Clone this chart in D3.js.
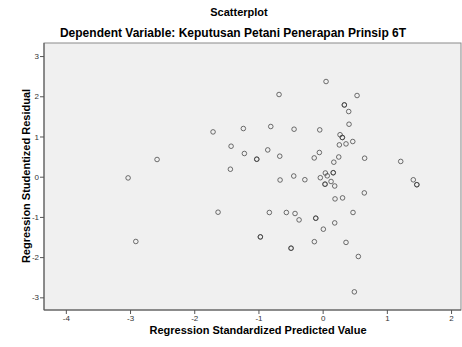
<!DOCTYPE html>
<html lang="en">
	<head>
		<meta charset="utf-8">
		<title>Scatterplot</title>
		<script src="https://d3js.org/d3.v7.min.js"></script>
		<style type="text/css">
			body {
				margin: 0;
				background: #fff;
			}
			text {
				font-family: Arial, "Liberation Sans", sans-serif;
			}
			.tick text {
				font-size: 8px;
				fill: #333;
			}
			.tick line {
				stroke: #555;
			}
			.domain {
				display: none;
			}
		</style>
	</head>
	<body>
		<script type="text/javascript">

			//Width and height
			var w = 462;
			var h = 347;

			//Standardized predicted value (x) and studentized residual (y), one entry per case
			var predicted = [-1.707, -1.235, -1.426, -1.219, -1.026, -1.026, -2.579, -1.437, -3.030,
				0.053, -0.679, 0.536, 0.338, 0.338, 0.406, -0.808, -0.445, -0.045, 0.411, 0.271,
				0.307, 0.307, 0.260, 0.364, 0.469, -0.855, -0.668, -0.051, -0.131, 0.251, 0.174,
				0.654, 1.216, -0.663, -0.450, -0.277, -0.036, 0.042, 0.072, 0.165, 0.165, 1.412,
				0.131, 0.037, 0.037, 0.188, 1.467, 1.467, 0.649, 0.193, 0.310, -0.830, -0.565,
				-0.430, -0.367, -0.107, -0.107, 0.473, 0.188, 0.011, -0.970, -0.970, -0.492, -0.492,
				-0.129, 0.364, 0.556, 0.494, -1.629, -2.910];
			var residual = [1.114, 1.198, 0.758, 0.577, 0.435, 0.435, 0.428, 0.186, -0.030,
				2.367, 2.044, 2.019, 1.785, 1.785, 1.621, 1.248, 1.181, 1.164, 1.305, 1.044,
				0.975, 0.975, 0.791, 0.816, 0.875, 0.666, 0.510, 0.602, 0.467, 0.490, 0.361,
				0.460, 0.380, -0.082, 0.017, -0.075, -0.025, 0.092, 0.022, 0.099, 0.099, -0.077,
				-0.119, -0.186, -0.186, -0.231, -0.199, -0.199, -0.403, -0.552, -0.527, -0.890, -0.890,
				-0.915, -1.074, -1.032, -1.032, -0.890, -1.149, -1.305, -1.497, -1.497, -1.778, -1.778,
				-1.616, -1.634, -1.984, -2.864, -0.883, -1.611];

			var xTicks = [-4, -3, -2, -1, 0, 1, 2];
			var yTicks = [-3, -2, -1, 0, 1, 2, 3];

			var title = "Scatterplot";
			var subtitle = "Dependent Variable: Keputusan Petani Penerapan Prinsip 6T";
			var xLabel = "Regression Standardized Predicted Value";
			var yLabel = "Regression Studentized Residual";

			var points = predicted.map(function(d, i) { return { x: d, y: residual[i] }; });

			//Plot area
			var plotL = 44, plotT = 43, plotR = 461, plotB = 310;

			var x = d3.scaleLinear()
				.domain([-4.34, 2.155])
				.range([plotL, plotR]);

			var y = d3.scaleLinear()
				.domain([-3.315, 3.325])
				.range([plotB, plotT]);

			var svg = d3.select("body")
				.append("svg")
				.attr("width", w)
				.attr("height", h);

			svg.append("rect")
				.attr("x", plotL)
				.attr("y", plotT)
				.attr("width", plotR - plotL)
				.attr("height", plotB - plotT)
				.style("fill", "#f0f0f0")
				.style("stroke", "#8a8a8a")
				.style("stroke-width", 1);

			//Darker left and bottom axis lines
			svg.append("line")
				.attr("x1", plotL).attr("x2", plotL)
				.attr("y1", plotT).attr("y2", plotB)
				.style("stroke", "#555");
			svg.append("line")
				.attr("x1", plotL).attr("x2", plotR)
				.attr("y1", plotB).attr("y2", plotB)
				.style("stroke", "#555");

			var fmt = function(d) { return String(d); };

			svg.append("g")
				.attr("transform", "translate(0," + plotB + ")")
				.call(d3.axisBottom(x).tickValues(xTicks).tickFormat(fmt).tickSize(4).tickPadding(1));

			svg.append("g")
				.attr("transform", "translate(" + plotL + ",0)")
				.call(d3.axisLeft(y).tickValues(yTicks).tickFormat(fmt).tickSize(4).tickPadding(1));

			//Points; doubled cases show darker
			svg.append("g")
				.selectAll("circle")
				.data(points)
				.enter()
				.append("circle")
				.attr("cx", function(d) { return x(d.x); })
				.attr("cy", function(d) { return y(d.y); })
				.attr("r", 2.3)
				.style("fill", "none")
				.style("stroke", "#3a3a3a")
				.style("stroke-opacity", 0.72)
				.style("stroke-width", 1);

			svg.append("text")
				.attr("x", 239)
				.attr("y", 16)
				.attr("text-anchor", "middle")
				.style("font-size", "11px")
				.style("font-weight", "bold")
				.text(title);

			svg.append("text")
				.attr("x", 233)
				.attr("y", 37)
				.attr("text-anchor", "middle")
				.style("font-size", "12px")
				.style("font-weight", "bold")
				.text(subtitle);

			svg.append("text")
				.attr("x", 258)
				.attr("y", 334)
				.attr("text-anchor", "middle")
				.style("font-size", "11px")
				.style("font-weight", "bold")
				.text(xLabel);

			svg.append("text")
				.attr("transform", "translate(30,176)rotate(-90)")
				.attr("text-anchor", "middle")
				.style("font-size", "11px")
				.style("font-weight", "bold")
				.text(yLabel);

		</script>
	</body>
</html>
